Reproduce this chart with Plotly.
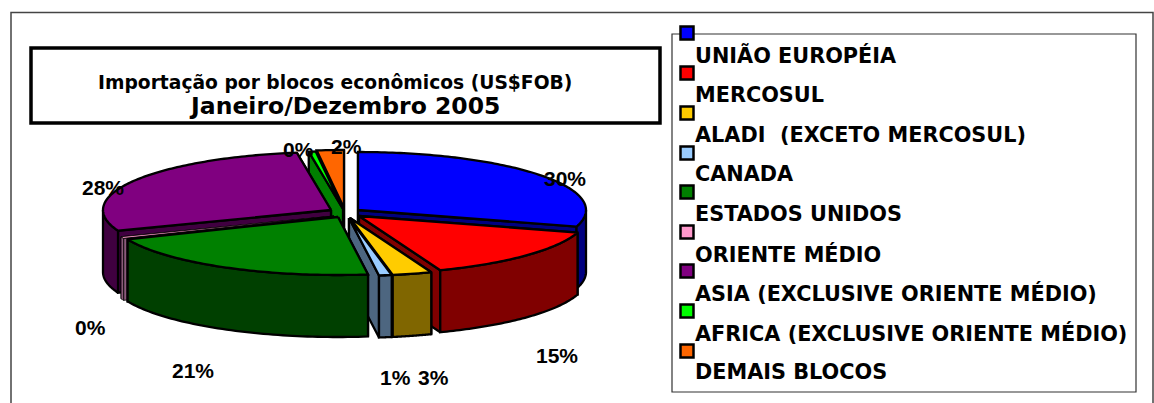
import numpy as np
import plotly.graph_objects as go

categories = ["UNIÃO EUROPÉIA", "MERCOSUL", "ALADI  (EXCETO MERCOSUL)", "CANADA", "ESTADOS UNIDOS",
              "ORIENTE MÉDIO", "ASIA (EXCLUSIVE ORIENTE MÉDIO)", "AFRICA (EXCLUSIVE ORIENTE MÉDIO)", "DEMAIS BLOCOS"]
values = [29.6, 14.6, 2.8, 0.9, 20.8, 0.49, 28.41, 0.49, 1.91]
title_line1 = "Importação por blocos econômicos (US$FOB)"
title_line2 = "Janeiro/Dezembro 2005"

top_colors = ["#0000FF", "#FF0000", "#FFCC00", "#99CCFF", "#008000", "#FF99CC", "#800080", "#00FF00", "#FF6600"]
side_colors = ["#000080", "#800000", "#806600", "#4D6680", "#004000", "#8A5A7A", "#400040", "#008000", "#803300"]

# Pixel-mapped canvas layout
W, H = 1154, 403
RX, RY, DEPTH = 228, 58, 62
apex = [(358, 210), (359, 216), (350, 218), (349, 218), (338, 217), (334, 216), (331, 210), (343, 209), (344, 208)]
draw_order = [8, 7, 6, 5, 0, 1, 2, 3, 4]
thin_slices = {5}
label_pos = [(565, 178), (557, 355), (433, 377), (395, 377), (193, 370), (90, 327), (103, 187), (298, 149), (346, 146)]
legend_marker_y = [33, 73, 113, 153, 192, 232, 271, 311, 351]
legend_text_y = [55, 95, 135, 174, 214, 254, 293, 333, 372]

total = sum(values)
edges = np.concatenate([[0], np.cumsum(values)]) / total * 2 * np.pi

fig = go.Figure()


def rim(i, t):
    ax, ay = apex[i]
    return ax + RX * np.sin(t), ay - RY * np.cos(t)


def add_poly(xs, ys, color, width=2.3):
    fig.add_trace(go.Scatter(x=list(xs), y=list(ys), mode="lines", fill="toself", fillcolor=color,
                             line=dict(color="#000000", width=width, simplify=False), hoverinfo="skip",
                             showlegend=False))


for i in draw_order:
    t0, t1 = edges[i], edges[i + 1]
    ax, ay = apex[i]
    lw = 0.8 if i in thin_slices else 2.3
    # inner walls, rearmost first
    for t in sorted((t0, t1), key=lambda v: -np.cos(v)):
        rx_, ry_ = rim(i, t)
        add_poly([ax, rx_, rx_, ax, ax], [ay, ry_, ry_ + DEPTH, ay + DEPTH, ay], side_colors[i], lw)
    # outer wall (front-facing part of the arc)
    a, b = max(t0, np.pi / 2), min(t1, 3 * np.pi / 2)
    if b > a:
        ts = np.linspace(a, b, 60)
        xs, ys = rim(i, ts)
        add_poly(np.r_[xs, xs[::-1], xs[0]], np.r_[ys, (ys + DEPTH)[::-1], ys[0]], side_colors[i], lw)
    # top face
    ts = np.linspace(t0, t1, max(3, int((t1 - t0) * 60)))
    xs, ys = rim(i, ts)
    add_poly(np.r_[ax, xs, ax], np.r_[ay, ys, ay], top_colors[i], lw)

# Legend keys
fig.add_trace(go.Scatter(x=[687] * len(categories), y=legend_marker_y, mode="markers",
                         marker=dict(symbol="square", size=13, color=top_colors,
                                     line=dict(color="#000000", width=2.5)),
                         hoverinfo="skip", showlegend=False))

annotations = []
for i, name in enumerate(categories):
    annotations.append(dict(x=693, y=legend_text_y[i], text=name, showarrow=False, xanchor="left", yanchor="middle",
                            font=dict(family="DejaVu Sans", size=20.8, color="#000000", weight="bold")))
    annotations.append(dict(x=label_pos[i][0], y=label_pos[i][1], text=f"{round(values[i] / total * 100)}%",
                            showarrow=False, xanchor="center", yanchor="middle",
                            font=dict(family="Liberation Sans", size=21, color="#000000", weight="bold")))
title_text = (f'<span style="font-size:18.7px">{title_line1}\u00a0\u00a0</span><br>'
              f'<span style="font-size:23.5px">\u00a0{title_line2}</span>')
annotations.append(dict(x=341, y=96, text=title_text, showarrow=False, xanchor="center", yanchor="middle",
                        font=dict(family="DejaVu Sans", size=19, color="#000000", weight="bold")))

shapes = [
    dict(type="rect", x0=11, y0=12.5, x1=1153, y1=410, line=dict(color="#444444", width=1.5), layer="below"),
    dict(type="rect", x0=31, y0=48, x1=660, y1=123, line=dict(color="#000000", width=3.5), layer="below"),
    dict(type="rect", x0=672, y0=34, x1=1136, y1=392, line=dict(color="#333333", width=1.2), layer="below"),
]

fig.update_layout(
    width=W, height=H, margin=dict(l=0, r=0, t=0, b=0), paper_bgcolor="#FFFFFF", plot_bgcolor="#FFFFFF",
    xaxis=dict(range=[0, W], visible=False, fixedrange=True),
    yaxis=dict(range=[H, 0], visible=False, fixedrange=True),
    shapes=shapes, annotations=annotations, showlegend=False,
)
fig.write_html("out.html", config=dict(displayModeBar=False),
               post_script="document.body.style.margin='0';document.documentElement.style.overflow='hidden';")
